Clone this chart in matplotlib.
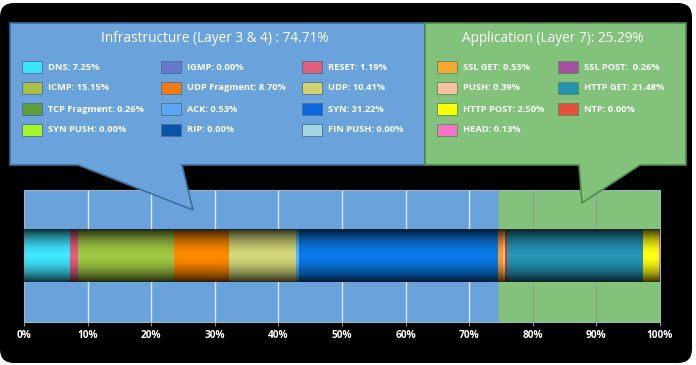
import numpy as np
import matplotlib.pyplot as plt
from matplotlib.patches import FancyBboxPatch, Polygon, Rectangle

## Data
infra_title = 'Infrastructure (Layer 3 & 4) : 74.71%'
app_title = 'Application (Layer 7): 25.29%'

infra_labels = ['DNS', 'ICMP', 'TCP Fragment', 'SYN PUSH',
                'IGMP', 'UDP Fragment', 'ACK', 'RIP',
                'RESET', 'UDP', 'SYN', 'FIN PUSH']
infra_values = [7.25, 15.15, 0.26, 0.00,
                0.00, 8.70, 0.53, 0.00,
                1.19, 10.41, 31.22, 0.00]
infra_colors = ['#3fe3f7', '#a9bf45', '#5e9d3c', '#a6f52a',
                '#6678cc', '#f57a10', '#5aa6f2', '#0a55a8',
                '#e0607a', '#d2d26e', '#0b66e0', '#a3d6e2']

app_labels = ['SSL GET', 'PUSH', 'HTTP POST', 'HEAD',
              'SSL POST', 'HTTP GET', 'NTP']
app_values = [0.53, 0.39, 2.50, 0.13,
              0.26, 21.48, 0.00]
app_colors = ['#f2a832', '#f7c2a2', '#ffff00', '#f274c4',
              '#a4509e', '#2390b4', '#e2503a']
app_text = ['SSL GET: 0.53%', 'PUSH: 0.39%', 'HTTP POST: 2.50%', 'HEAD: 0.13%',
            'SSL POST:  0.26%', 'HTTP GET: 21.48%', 'NTP: 0.00%']

# order of the segments along the bar
bar_order = ['DNS', 'RESET', 'ICMP', 'UDP Fragment', 'UDP', 'ACK', 'SYN', 'TCP Fragment',
             'SSL GET', 'PUSH', 'SSL POST', 'HTTP GET', 'HTTP POST', 'HEAD']
bar_colors = {'DNS': '#40e6ff', 'RESET': '#e0607a', 'ICMP': '#a2c843', 'UDP Fragment': '#ff8a00',
              'UDP': '#d2d87a', 'ACK': '#5ab4ff', 'SYN': '#0a7aea', 'TCP Fragment': '#ff9a30',
              'SSL GET': '#f5a030', 'PUSH': '#f7c2a2', 'SSL POST': '#d84020', 'HTTP GET': '#2596b8',
              'HTTP POST': '#ffff10', 'HEAD': '#f274c4'}

infra_total = 74.71
xticks = [0, 10, 20, 30, 40, 50, 60, 70, 80, 90, 100]

BLUE = '#6aa2dc'
GREEN = '#82c27a'
W, H = 696, 365
font = 'Open Sans'

fig = plt.figure(figsize=(W / 100, H / 100), dpi=100)
fig.patch.set_facecolor('white')

# black rounded backdrop
bg = fig.add_axes([0, 0, 1, 1], zorder=0)
bg.set_xlim(0, W); bg.set_ylim(H, 0); bg.axis('off')
bg.add_patch(FancyBboxPatch((6, 9), 680, 348, boxstyle='round,pad=6,rounding_size=14',
                            fc='black', ec='none'))

## Main bar chart
x0, x1, y0, y1 = 24, 660, 190, 322
ax = fig.add_axes([x0 / W, 1 - y1 / H, (x1 - x0) / W, (y1 - y0) / H], zorder=1)
ax.set_xlim(0, 100); ax.set_ylim(0, 1)
ax.axvspan(0, infra_total, color=BLUE, zorder=0)
ax.axvspan(infra_total, 100, color=GREEN, zorder=0)
for t in xticks[1:-1]:
    ax.axvline(t, color='#dbe8f5' if t < infra_total else '#8ea696', lw=1, zorder=1)

vals = dict(zip(infra_labels + app_labels, infra_values + app_values))
bar_h = 0.394
left = 0
for name in bar_order:
    ax.barh(0.5, vals[name], left=left, height=bar_h, color=bar_colors[name], lw=0, zorder=2)
    left += vals[name]

# cylinder shading on the bar
t = np.linspace(-1, 1, 200)
alpha = np.clip(0.8 * np.abs(t) ** 1.8, 0, 1)
shade = np.zeros((200, 1, 4))
shade[:, 0, 3] = alpha
ax.imshow(shade, extent=(0, 100, 0.5 - bar_h / 2, 0.5 + bar_h / 2), aspect='auto',
          zorder=3, interpolation='bilinear')
ax.set_xlim(0, 100); ax.set_ylim(0, 1)

ax.set_yticks([])
ax.set_xticks(xticks)
ax.set_xticklabels([f'{v}%' for v in xticks], color='white', fontweight='bold',
                   fontsize=7.3, family=font)
ax.tick_params(axis='x', length=3, color='#909090', pad=3)
for s in ax.spines.values():
    s.set_color('#a0b4c8'); s.set_linewidth(0.8)

## Callouts
fg = fig.add_axes([0, 0, 1, 1], zorder=2)
fg.set_xlim(0, W); fg.set_ylim(H, 0); fg.axis('off'); fg.patch.set_alpha(0)

blue_shape = [(10, 23), (425, 23), (425, 165), (182, 165), (193, 210), (78, 165), (10, 165)]
green_shape = [(425, 23), (686, 23), (686, 165), (640, 165), (582, 203), (579, 165), (425, 165)]
fg.add_patch(Polygon(blue_shape, closed=True, fc=BLUE, ec='#3d6e9e', lw=1.2))
fg.add_patch(Polygon(green_shape, closed=True, fc=GREEN, ec='#4f8a4a', lw=1.2))

fg.text(215, 38, infra_title, color='white', fontsize=9.8, ha='center', va='center', family=font)
fg.text(553, 38, app_title, color='white', fontsize=9.8, ha='center', va='center', family=font)

rows = [67, 88, 109, 130]
infra_cols = [22, 161, 302]
for i, (lab, v, c) in enumerate(zip(infra_labels, infra_values, infra_colors)):
    cx, cy = infra_cols[i // 4], rows[i % 4]
    fg.add_patch(Rectangle((cx, cy - 6), 20, 12, fc=c, ec='#4a6f96', lw=0.6))
    fg.text(cx + 26, cy, f'{lab}: {v:.2f}%', color='white', fontsize=6.7, fontweight='bold',
            ha='left', va='center', family=font)

app_cols = [437, 558]
for i, (txt, c) in enumerate(zip(app_text, app_colors)):
    cx, cy = app_cols[i // 4], rows[i % 4]
    fg.add_patch(Rectangle((cx, cy - 6), 20, 12, fc=c, ec='#5a8a58', lw=0.6))
    fg.text(cx + 26, cy, txt, color='white', fontsize=6.7, fontweight='bold',
            ha='left', va='center', family=font)

fig.savefig('out.png', dpi=100)
